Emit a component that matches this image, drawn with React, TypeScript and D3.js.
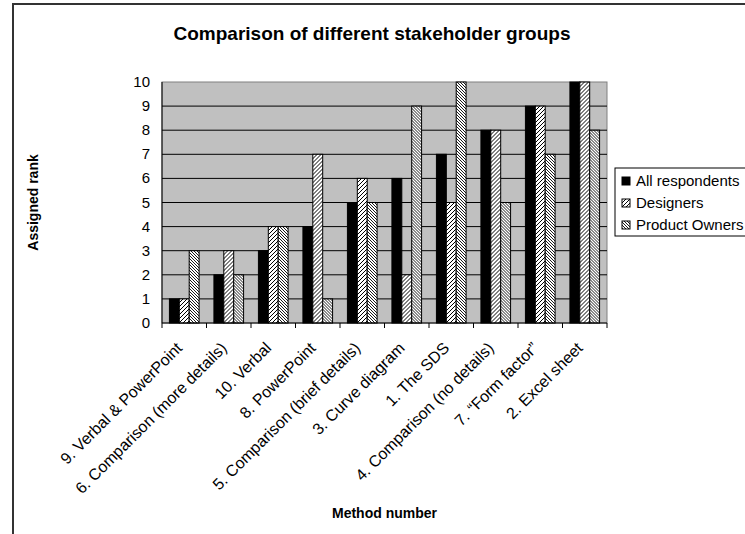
import React from "react";
import * as d3 from "d3";

const categories = [
  "9. Verbal & PowerPoint",
  "6. Comparison (more details)",
  "10. Verbal",
  "8. PowerPoint",
  "5. Comparison (brief details)",
  "3. Curve diagram",
  "1. The SDS",
  "4. Comparison (no details)",
  "7. \u201cForm factor\u201d",
  "2. Excel sheet",
];
const seriesNames = ["All respondents", "Designers", "Product Owners"];
const allRespondents = [1, 2, 3, 4, 5, 6, 7, 8, 9, 10];
const designers = [1, 3, 4, 7, 6, 2, 5, 8, 9, 10];
const productOwners = [3, 2, 4, 1, 5, 9, 10, 5, 7, 8];
const yTicks = [0, 1, 2, 3, 4, 5, 6, 7, 8, 9, 10];

const W = 745;
const H = 534;
const plot = { left: 162, right: 607, top: 82, bottom: 323 };
const font = "'Liberation Sans', Arial, sans-serif";

export default function App() {
  const seriesValues = [allRespondents, designers, productOwners];
  const fills = ["#000000", "url(#patD)", "url(#patP)"];
  const x0 = d3.scaleBand<string>().domain(categories).range([plot.left, plot.right]).padding(0);
  const x1 = d3
    .scaleBand<string>()
    .domain(seriesNames)
    .range([0, x0.bandwidth()])
    .paddingInner(0)
    .paddingOuter(0.75);
  const y = d3.scaleLinear().domain([0, 10]).range([plot.bottom, plot.top]);

  return (
    <div style={{ position: "fixed", left: 0, top: 0 }}>
      <svg width={W} height={H} style={{ display: "block", background: "#fff" }}>
        <defs>
          <pattern id="patD" width="4" height="4" patternUnits="userSpaceOnUse">
            <rect width="4" height="4" fill="#fff" />
            <path d="M-1,1 L1,-1 M0,4 L4,0 M3,5 L5,3" stroke="#000" strokeWidth="1" />
          </pattern>
          <pattern id="patP" width="3" height="3" patternUnits="userSpaceOnUse">
            <rect width="3" height="3" fill="#fff" />
            <path d="M-1,-1 L4,4 M-1,2 L1,4 M2,-1 L4,1" stroke="#000" strokeWidth="0.9" />
          </pattern>
        </defs>
        {/* outer frame */}
        <path d={`M13,${H + 2} L13,4 L${W + 2},4`} fill="none" stroke="#333" strokeWidth={2} />

        {/* title */}
        <text x={372} y={40} textAnchor="middle" fontFamily={font} fontSize={19} fontWeight="bold">
          Comparison of different stakeholder groups
        </text>

        {/* plot area */}
        <rect
          x={plot.left}
          y={plot.top}
          width={plot.right - plot.left}
          height={plot.bottom - plot.top}
          fill="#c0c0c0"
          stroke="#808080"
          strokeWidth={1}
        />
        {yTicks.slice(1, -1).map((t) => (
          <line key={t} x1={plot.left} x2={plot.right} y1={y(t)} y2={y(t)} stroke="#000" strokeWidth={1} />
        ))}

        {/* bars */}
        {categories.map((c, i) => (
          <g key={c} transform={`translate(${x0(c)},0)`}>
            {seriesNames.map((s, j) => (
              <rect
                key={s}
                x={x1(s)}
                y={y(seriesValues[j][i])}
                width={x1.bandwidth()}
                height={y(0) - y(seriesValues[j][i])}
                fill={fills[j]}
                stroke="#000"
                strokeWidth={1}
              />
            ))}
          </g>
        ))}

        {/* axes */}
        <line x1={plot.left} x2={plot.left} y1={plot.top} y2={plot.bottom} stroke="#000" />
        <line x1={plot.left} x2={plot.right} y1={plot.bottom} y2={plot.bottom} stroke="#000" />
        {categories.map((c) => (
          <line key={c} x1={x0(c)} x2={x0(c)} y1={plot.bottom} y2={plot.bottom + 5} stroke="#000" />
        ))}
        <line x1={plot.right} x2={plot.right} y1={plot.bottom} y2={plot.bottom + 5} stroke="#000" />

        {yTicks.map((t) => (
          <text key={t} x={plot.left - 12} y={y(t) + 5} textAnchor="end" fontFamily={font} fontSize={15}>
            {t}
          </text>
        ))}

        {categories.map((c) => {
          const cx = (x0(c) as number) + x0.bandwidth() / 2;
          return (
            <text
              key={c}
              transform={`translate(${cx - 1},${plot.bottom + 26}) rotate(-45)`}
              textAnchor="end"
              fontFamily={font}
              fontSize={16}
            >
              {c}
            </text>
          );
        })}

        <text
          transform={`translate(38,${(plot.top + plot.bottom) / 2}) rotate(-90)`}
          textAnchor="middle"
          fontFamily={font}
          fontSize={14}
          fontWeight="bold"
        >
          Assigned rank
        </text>
        <text x={(plot.left + plot.right) / 2} y={518} textAnchor="middle" fontFamily={font} fontSize={14} fontWeight="bold">
          Method number
        </text>

        {/* legend */}
        <rect x={615} y={168} width={140} height={68} fill="#fff" stroke="#000" strokeWidth={1} />
        {seriesNames.map((s, j) => (
          <g key={s} transform={`translate(622,${181 + j * 22})`}>
            <rect x={0} y={-4} width={8} height={8} fill={fills[j]} stroke="#000" strokeWidth={1} />
            <text x={14} y={5} fontFamily={font} fontSize={15}>
              {s}
            </text>
          </g>
        ))}
      </svg>
    </div>
  );
}
